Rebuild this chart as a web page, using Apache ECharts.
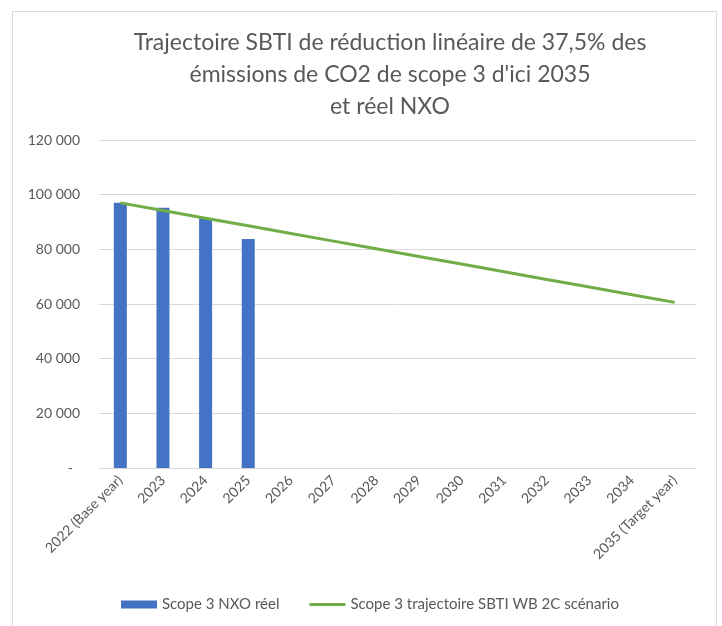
<!DOCTYPE html>
<html>
<head>
<meta charset="utf-8">
<script src="https://cdn.jsdelivr.net/npm/echarts@6/dist/echarts.min.js"></script>
<style>
  html, body { margin: 0; padding: 0; background: #fff; }
  #main { width: 722px; height: 626px; }
</style>
</head>
<body>
<div id="main"></div>
<script>
// years on the x axis
const years = ['2022 (Base year)', '2023', '2024', '2025', '2026', '2027', '2028',
  '2029', '2030', '2031', '2032', '2033', '2034', '2035 (Target year)'];
// real scope 3 emissions (only 4 years known)
const reel = [97000, 95200, 91400, 83800, null, null, null, null, null, null, null, null, null, null];
// SBTI linear trajectory -37.5% by 2035
const trajectoire = [97000, 94200, 91400, 88600, 85800, 83000, 80200, 77400, 74600, 71800, 69000, 66200, 63400, 60600];
const yTicks = [0, 20000, 40000, 60000, 80000, 100000, 120000];

const titre = 'Trajectoire SBTI de réduction linéaire de 37,5% des\némissions de CO2 de scope 3 d\'ici 2035\net réel NXO';
const grey = '#595959';

function fmt(v) {
  if (v === 0) return '-  ';
  return String(v).replace(/\B(?=(\d{3})+(?!\d))/g, ' ');
}

const chart = echarts.init(document.getElementById('main'));
const option = {
  backgroundColor: '#fff',
  animation: false,
  textStyle: { fontFamily: 'Lato' },
  graphic: [
    {
      type: 'rect',
      shape: { x: 12.5, y: 11.5, width: 704, height: 700 },
      style: { fill: 'none', stroke: '#d9d9d9', lineWidth: 1 },
      silent: true
    },
    {
      type: 'text',
      x: 390,
      y: 27,
      silent: true,
      style: {
        text: titre,
        align: 'center',
        verticalAlign: 'top',
        fontFamily: 'Lato',
        fontSize: 23,
        lineHeight: 32,
        fill: grey
      }
    }
  ],
  legend: {
    bottom: 14,
    left: 121,
    padding: 0,
    itemWidth: 36,
    itemHeight: 8,
    itemGap: 30,
    textStyle: { fontFamily: 'Lato', fontSize: 15, color: grey },
    data: [
      { name: 'Scope 3 NXO réel', icon: 'rect' },
      // thin line icon: the two moveTo points keep the 0..8 height box
      { name: 'Scope 3 trajectoire SBTI WB 2C scénario', icon: 'path://M0,0M0,8M0,2.5L36,2.5L36,5.5L0,5.5Z' }
    ]
  },
  grid: { left: 99, right: 26, top: 140, bottom: 158, containLabel: false, outerBoundsMode: 'none' },
  xAxis: {
    type: 'category',
    data: years,
    axisLine: { lineStyle: { color: '#d9d9d9' } },
    axisTick: { show: false },
    axisLabel: { rotate: 45, interval: 0, margin: 10, fontSize: 14, color: grey, fontFamily: 'Lato' }
  },
  yAxis: {
    type: 'value',
    min: 0,
    max: yTicks[yTicks.length - 1],
    interval: 20000,
    axisLine: { show: false },
    axisTick: { show: false },
    splitLine: { lineStyle: { color: '#d9d9d9' } },
    axisLabel: { margin: 19, fontSize: 14, color: grey, fontFamily: 'Lato', formatter: fmt }
  },
  series: [
    {
      name: 'Scope 3 NXO réel',
      type: 'bar',
      data: reel,
      barWidth: 13,
      itemStyle: { color: '#4472C4' }
    },
    {
      name: 'Scope 3 trajectoire SBTI WB 2C scénario',
      type: 'line',
      data: trajectoire,
      symbol: 'none',
      lineStyle: { color: '#70AD47', width: 3 },
      itemStyle: { color: '#70AD47' }
    }
  ]
};
chart.setOption(option);
</script>
</body>
</html>
